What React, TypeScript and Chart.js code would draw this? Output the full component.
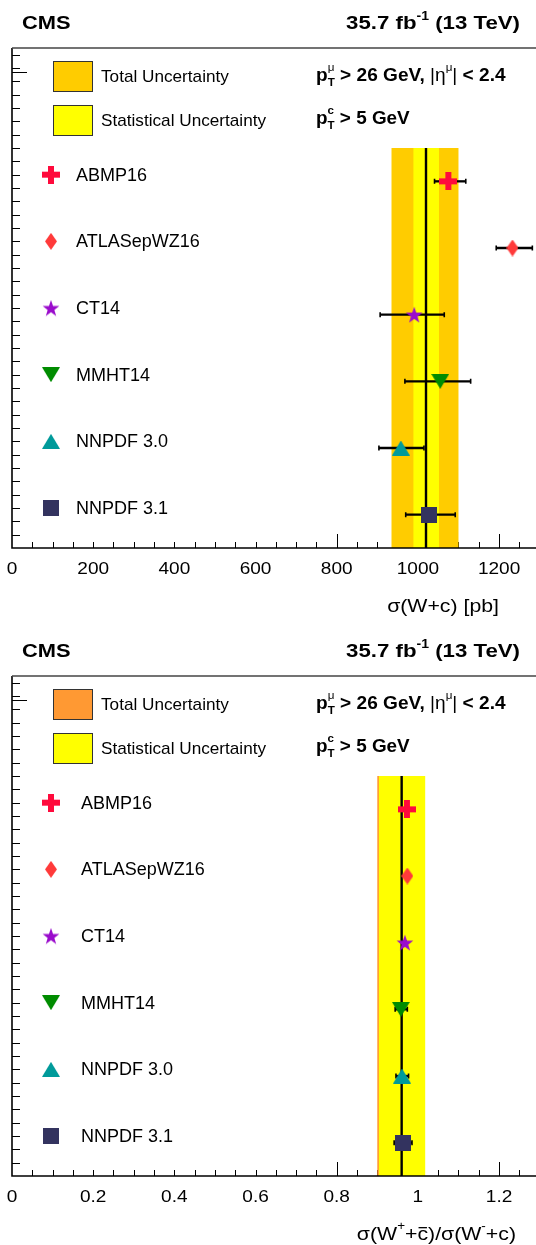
import React, { useEffect, useRef } from "react";
import { Chart, registerables } from "chart.js";
Chart.register(...registerables);

// ---------------- data ----------------
const MODELS = ["ABMP16", "ATLASepWZ16", "CT14", "MMHT14", "NNPDF 3.0", "NNPDF 3.1"];
const ROW_POSITIONS = [5.5, 4.5, 3.5, 2.5, 1.5, 0.5];
const LEGEND_LABELS = ["Total Uncertainty", "Statistical Uncertainty"];

const XSEC_PRED = [1075, 1233, 991, 1055, 958, 1028];
const XSEC_PRED_ERR_LO = [34, 40, 84, 87, 54, 58];
const XSEC_PRED_ERR_HI = [43, 49, 74, 75, 57, 64];
const XSEC_MEAS = 1020;
const XSEC_STAT = [31, 32];
const XSEC_TOTAL = [85, 80];
const XSEC_TICKS = [0, 200, 400, 600, 800, 1000, 1200];
const XSEC_TICK_LABELS = ["0", "200", "400", "600", "800", "1000", "1200"];

const RATIO_PRED = [0.973, 0.974, 0.968, 0.958, 0.961, 0.9635];
const RATIO_PRED_ERR_LO = [0.004, 0.003, 0.003, 0.014, 0.015, 0.022];
const RATIO_PRED_ERR_HI = [0.004, 0.003, 0.003, 0.016, 0.016, 0.022];
const RATIO_MEAS = 0.96;
const RATIO_STAT = [0.056, 0.058];
const RATIO_TOTAL = [0.06, 0.055];
const RATIO_TICKS = [0, 0.2, 0.4, 0.6, 0.8, 1, 1.2];
const RATIO_TICK_LABELS = ["0", "0.2", "0.4", "0.6", "0.8", "1", "1.2"];

const MARKER_KINDS = ["plus", "diamond", "star", "down", "up", "square"];
const MARKER_COLORS = ["#ff0a3c", "#ff3a3a", "#9a0ccc", "#008c00", "#009a9a", "#33335f"];

// ---------------- helpers ----------------
const FAMILY = '"Liberation Sans", Arial, Helvetica, sans-serif';

type Seg = { t: string; size: number; bold?: boolean; dy?: number; adv?: boolean; over?: boolean };

function fontOf(s: Seg) {
  return `${s.bold ? "bold " : ""}${s.size}px ${FAMILY}`;
}

function drawRich(
  ctx: CanvasRenderingContext2D,
  segs: Seg[],
  x: number,
  y: number,
  align: "left" | "right" | "center",
  sx = 1
) {
  ctx.save();
  ctx.textBaseline = "middle";
  ctx.textAlign = "left";
  ctx.fillStyle = "#000";
  const ws = segs.map((s) => {
    ctx.font = fontOf(s);
    return ctx.measureText(s.t).width;
  });
  let total = 0;
  segs.forEach((s, i) => {
    if (s.adv !== false) total += ws[i];
  });
  total *= sx;
  const start = align === "left" ? x : align === "right" ? x - total : x - total / 2;
  ctx.translate(start, y);
  ctx.scale(sx, 1);
  let cx = 0;
  segs.forEach((s, i) => {
    ctx.font = fontOf(s);
    const dy = s.dy ?? 0;
    ctx.fillText(s.t, cx, dy);
    if (s.over) {
      ctx.fillRect(cx + 1, dy - s.size * 0.42, ws[i] - 2, 1.3);
    }
    if (s.adv !== false) cx += ws[i];
  });
  ctx.restore();
}

function makeMarker(kind: string, color: string): HTMLCanvasElement {
  const c = document.createElement("canvas");
  const dims: Record<string, [number, number]> = {
    plus: [18, 18],
    diamond: [12, 17],
    star: [18, 17],
    down: [18, 15],
    up: [18, 15],
    square: [16, 16],
  };
  const [w, h] = dims[kind];
  c.width = w;
  c.height = h;
  const g = c.getContext("2d")!;
  g.fillStyle = color;
  g.beginPath();
  if (kind === "plus") {
    g.rect(0, 6, 18, 6);
    g.rect(6, 0, 6, 18);
  } else if (kind === "diamond") {
    g.moveTo(6, 0);
    g.lineTo(12, 8.5);
    g.lineTo(6, 17);
    g.lineTo(0, 8.5);
  } else if (kind === "star") {
    const cx = 9, cy = 9.3, ro = 8.8, ri = 3.5;
    for (let k = 0; k < 10; k++) {
      const r = k % 2 === 0 ? ro : ri;
      const a = -Math.PI / 2 + (k * Math.PI) / 5;
      const px = cx + r * Math.cos(a);
      const py = cy + r * Math.sin(a);
      if (k === 0) g.moveTo(px, py);
      else g.lineTo(px, py);
    }
  } else if (kind === "down") {
    g.moveTo(0, 0);
    g.lineTo(18, 0);
    g.lineTo(9, 15);
  } else if (kind === "up") {
    g.moveTo(9, 0);
    g.lineTo(18, 15);
    g.lineTo(0, 15);
  } else {
    g.rect(0, 0, 16, 16);
  }
  g.closePath();
  g.fill();
  return c;
}

type PanelCfg = {
  xMax: number;
  minorStep: number;
  longTicks: number[];
  ticks: number[];
  tickLabels: string[];
  pred: number[];
  lo: number[];
  hi: number[];
  meas: number;
  stat: number[];
  total: number[];
  totalColor: string;
  statColor: string;
  labelX: number;
  axisTitle: Seg[];
  axisTitleX: number;
};

const TICK_SX = 1.12;

function makePlugin(cfg: PanelCfg, markers: HTMLCanvasElement[]) {
  return {
    id: "rootStyle",
    beforeDatasetsDraw(chart: any) {
      const ctx: CanvasRenderingContext2D = chart.ctx;
      const xs = chart.scales.x;
      const ys = chart.scales.y;
      const { left, right, top, bottom } = chart.chartArea;
      ctx.save();
      // x ticks
      ctx.strokeStyle = "#000";
      ctx.lineWidth = 1;
      const nMinor = Math.floor(cfg.xMax / cfg.minorStep + 1e-6);
      for (let k = 1; k <= nMinor; k++) {
        const v = k * cfg.minorStep;
        const isLong = cfg.longTicks.some((t) => Math.abs(t - v) < cfg.minorStep / 10);
        const px = Math.round(xs.getPixelForValue(v)) + 0.5;
        ctx.beginPath();
        ctx.moveTo(px, bottom);
        ctx.lineTo(px, bottom - (isLong ? 14 : 6));
        ctx.stroke();
      }
      // y ticks
      for (let k = 1; k <= 37; k++) {
        const py = Math.round(ys.getPixelForValue(k * 0.2)) + 0.5;
        ctx.beginPath();
        ctx.moveTo(left, py);
        ctx.lineTo(left + 8, py);
        ctx.stroke();
      }
      {
        const py = Math.round(ys.getPixelForValue(7.14)) + 0.5;
        ctx.beginPath();
        ctx.moveTo(left, py);
        ctx.lineTo(left + 15, py);
        ctx.stroke();
      }
      // bands
      const yb0 = ys.getPixelForValue(0);
      const yb1 = ys.getPixelForValue(6);
      const tx0 = xs.getPixelForValue(cfg.meas - cfg.total[0]);
      const tx1 = xs.getPixelForValue(cfg.meas + cfg.total[1]);
      ctx.fillStyle = cfg.totalColor;
      ctx.fillRect(tx0, yb1, tx1 - tx0, yb0 - yb1);
      const sx0 = xs.getPixelForValue(cfg.meas - cfg.stat[0]);
      const sx1 = xs.getPixelForValue(cfg.meas + cfg.stat[1]);
      ctx.fillStyle = cfg.statColor;
      ctx.fillRect(sx0, yb1, sx1 - sx0, yb0 - yb1);
      // frame
      ctx.strokeStyle = "#000";
      ctx.lineWidth = 1.6;
      ctx.beginPath();
      ctx.moveTo(left, top);
      ctx.lineTo(left, bottom);
      ctx.lineTo(right, bottom);
      ctx.stroke();
      ctx.strokeStyle = "#444";
      ctx.lineWidth = 1.3;
      ctx.beginPath();
      ctx.moveTo(left, top);
      ctx.lineTo(right, top);
      ctx.stroke();
      // central line
      const cxp = xs.getPixelForValue(cfg.meas);
      ctx.strokeStyle = "#000";
      ctx.lineWidth = 2.4;
      ctx.beginPath();
      ctx.moveTo(cxp, yb1);
      ctx.lineTo(cxp, yb0);
      ctx.stroke();
      // error bars
      ctx.lineWidth = 2.3;
      cfg.pred.forEach((v, i) => {
        const py = ys.getPixelForValue(ROW_POSITIONS[i]);
        const a = xs.getPixelForValue(v - cfg.lo[i]);
        const b = xs.getPixelForValue(v + cfg.hi[i]);
        ctx.beginPath();
        ctx.moveTo(a, py);
        ctx.lineTo(b, py);
        ctx.stroke();
        ctx.lineWidth = 1.6;
        ctx.beginPath();
        ctx.moveTo(a, py - 2.5);
        ctx.lineTo(a, py + 2.5);
        ctx.moveTo(b, py - 2.5);
        ctx.lineTo(b, py + 2.5);
        ctx.stroke();
        ctx.lineWidth = 2.3;
      });
      ctx.restore();
    },
    afterDatasetsDraw(chart: any) {
      const ctx: CanvasRenderingContext2D = chart.ctx;
      const xs = chart.scales.x;
      const ys = chart.scales.y;
      const { top, bottom } = chart.chartArea;
      ctx.save();
      // header
      drawRich(ctx, [{ t: "CMS", size: 19, bold: true }], 22, 23.5, "left", 1.15);
      drawRich(
        ctx,
        [
          { t: "35.7 fb", size: 19, bold: true },
          { t: "-1", size: 12, bold: true, dy: -7 },
          { t: " (13 TeV)", size: 19, bold: true },
        ],
        520,
        23.5,
        "right",
        1.17
      );
      // legend boxes
      const boxes = [
        { y: top + 13, color: cfg.totalColor },
        { y: top + 57, color: cfg.statColor },
      ];
      boxes.forEach((b, i) => {
        ctx.fillStyle = b.color;
        ctx.fillRect(53, b.y, 40, 31);
        ctx.strokeStyle = "#333";
        ctx.lineWidth = 1;
        ctx.strokeRect(53.5, b.y + 0.5, 39, 30);
        drawRich(ctx, [{ t: LEGEND_LABELS[i], size: 17 }], 101, b.y + 16, "left", 1.01);
      });
      // cuts text
      drawRich(
        ctx,
        [
          { t: "p", size: 18, bold: true },
          { t: "\u03bc", size: 11, dy: -8, adv: false },
          { t: "T", size: 11, bold: true, dy: 7 },
          { t: " > 26 GeV, ", size: 18, bold: true },
          { t: "|\u03b7", size: 18 },
          { t: "\u03bc", size: 11, dy: -8 },
          { t: "| ", size: 18 },
          { t: "< 2.4", size: 18, bold: true },
        ],
        316,
        top + 28,
        "left",
        1.06
      );
      drawRich(
        ctx,
        [
          { t: "p", size: 18, bold: true },
          { t: "c", size: 11, bold: true, dy: -8, adv: false },
          { t: "T", size: 11, bold: true, dy: 7 },
          { t: " > 5 GeV", size: 18, bold: true },
        ],
        316,
        top + 71,
        "left",
        1.05
      );
      // model legend entries
      MODELS.forEach((m, i) => {
        const py = ys.getPixelForValue(ROW_POSITIONS[i] + 0.1);
        const mk = markers[i];
        ctx.drawImage(mk, 51 - mk.width / 2, py - mk.height / 2);
        drawRich(ctx, [{ t: m, size: 18 }], cfg.labelX, py + 1, "left");
      });
      // tick labels
      cfg.ticks.forEach((v, i) => {
        drawRich(ctx, [{ t: cfg.tickLabels[i], size: 17 }], xs.getPixelForValue(v), bottom + 21, "center", TICK_SX);
      });
      // axis title
      drawRich(ctx, cfg.axisTitle, cfg.axisTitleX, bottom + 59, "right", 1.12);
      ctx.restore();
    },
  };
}

function Panel({ cfg, top, height }: { cfg: PanelCfg; top: number; height: number }) {
  const ref = useRef<HTMLCanvasElement | null>(null);
  useEffect(() => {
    const canvas = ref.current!;
    const markers = MARKER_KINDS.map((k, i) => makeMarker(k, MARKER_COLORS[i]));
    const chart = new Chart(canvas, {
      type: "scatter",
      data: {
        datasets: [
          {
            data: cfg.pred.map((v, i) => ({ x: v, y: ROW_POSITIONS[i] })),
            pointStyle: markers as any,
            pointRadius: 9,
            backgroundColor: MARKER_COLORS,
            borderWidth: 0,
          } as any,
        ],
      },
      options: {
        animation: false,
        responsive: false,
        events: [],
        layout: { autoPadding: false, padding: { left: 12, right: 0, top: 48, bottom: height - 548 } },
        scales: {
          x: { type: "linear", min: 0, max: cfg.xMax, display: false },
          y: { type: "linear", min: 0, max: 7.5, display: false },
        },
        plugins: { legend: { display: false }, tooltip: { enabled: false } },
      } as any,
      plugins: [makePlugin(cfg, markers) as any],
    });
    return () => chart.destroy();
  }, [cfg, height]);
  return (
    <canvas
      ref={ref}
      width={536}
      height={height}
      style={{ position: "absolute", left: 0, top, width: 536, height }}
    />
  );
}

const TOP_CFG: PanelCfg = {
  xMax: 1291,
  minorStep: 50,
  longTicks: [800, 1000, 1200],
  ticks: XSEC_TICKS,
  tickLabels: XSEC_TICK_LABELS,
  pred: XSEC_PRED,
  lo: XSEC_PRED_ERR_LO,
  hi: XSEC_PRED_ERR_HI,
  meas: XSEC_MEAS,
  stat: XSEC_STAT,
  total: XSEC_TOTAL,
  totalColor: "#ffcc00",
  statColor: "#ffff00",
  labelX: 76,
  axisTitle: [{ t: "\u03c3(W+c) [pb]", size: 19 }],
  axisTitleX: 499,
};

const BOTTOM_CFG: PanelCfg = {
  xMax: 1.291,
  minorStep: 0.05,
  longTicks: [0.8, 1.0, 1.2],
  ticks: RATIO_TICKS,
  tickLabels: RATIO_TICK_LABELS,
  pred: RATIO_PRED,
  lo: RATIO_PRED_ERR_LO,
  hi: RATIO_PRED_ERR_HI,
  meas: RATIO_MEAS,
  stat: RATIO_STAT,
  total: RATIO_TOTAL,
  totalColor: "#ff9933",
  statColor: "#ffff00",
  labelX: 81,
  axisTitle: [
    { t: "\u03c3(W", size: 19 },
    { t: "+", size: 12, dy: -8 },
    { t: "+", size: 19 },
    { t: "c", size: 19, over: true },
    { t: ")/\u03c3(W", size: 19 },
    { t: "-", size: 12, dy: -8 },
    { t: "+c)", size: 19 },
  ],
  axisTitleX: 516,
};

export default function App() {
  return (
    <div
      style={{
        position: "fixed",
        left: 0,
        top: 0,
        width: 536,
        height: 1245,
        overflow: "hidden",
        background: "#fff",
      }}
    >
      <Panel cfg={TOP_CFG} top={0} height={628} />
      <Panel cfg={BOTTOM_CFG} top={628} height={617} />
    </div>
  );
}
